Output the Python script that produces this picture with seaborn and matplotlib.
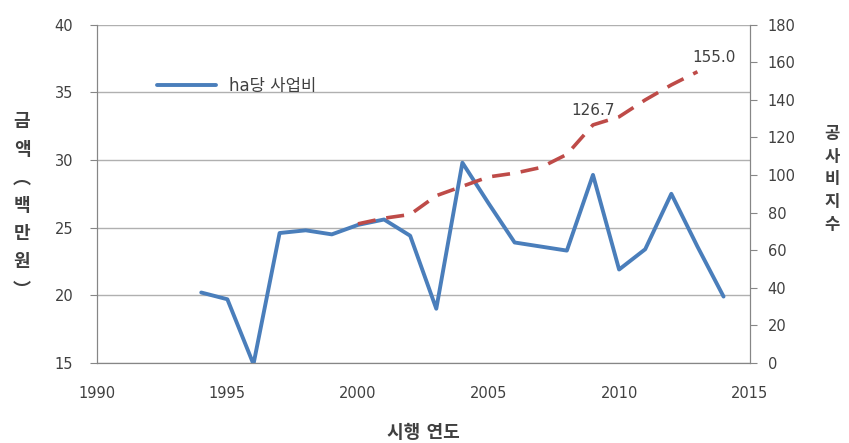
import matplotlib
matplotlib.use("Agg")
import matplotlib.pyplot as plt
import seaborn as sns
import pandas as pd

# ha당 사업비 (백만원)
years_cost = [1994, 1995, 1996, 1997, 1998, 1999, 2000, 2001, 2002, 2003, 2004,
              2005, 2006, 2007, 2008, 2009, 2010, 2011, 2012, 2013, 2014]
cost = [20.2, 19.7, 14.9, 24.6, 24.8, 24.5, 25.2, 25.6, 24.4, 19.0, 29.8,
        26.8, 23.9, 23.6, 23.3, 28.9, 21.9, 23.4, 27.5, 23.6, 19.9]

# 공사비지수
years_idx = [2000, 2001, 2002, 2003, 2004, 2005, 2006, 2007, 2008, 2009, 2010,
             2011, 2012, 2013]
index = [74, 77, 79, 89, 94, 99, 101, 104, 111, 126.7, 131, 140, 148, 155.0]

sns.set_style("white")
plt.rcParams['font.family'] = ['DejaVu Sans', 'Noto Sans CJK KR']

df_cost = pd.DataFrame({'year': years_cost, 'cost': cost})
df_idx = pd.DataFrame({'year': years_idx, 'index': index})

fig = plt.figure(figsize=(8.49, 4.43), dpi=100)
ax = fig.add_axes([0.114, 0.181, 0.769, 0.763])
ax2 = ax.twinx()

blue = '#4a7ebb'
red = '#be4b48'
grey = '#868686'
txt = '#404040'

sns.lineplot(data=df_cost, x='year', y='cost', ax=ax, color=blue, linewidth=2.8,
             label='ha당 사업비', zorder=3)
sns.lineplot(data=df_idx, x='year', y='index', ax=ax2, color=red, linewidth=2.6,
             legend=False)
ax2.lines[0].set_linestyle((0, (5, 3)))

ax.set_xlim(1990, 2015)
ax.set_ylim(15, 40)
ax.set_xticks(range(1990, 2016, 5))
ax.set_yticks(range(15, 41, 5))
ax2.set_ylim(0, 180)
ax2.set_yticks(range(0, 181, 20))

ax.grid(axis='y', color='#b0b0b0', linewidth=1)
ax.set_axisbelow(True)
for s in ax.spines.values():
    s.set_color(grey)
for s in ax2.spines.values():
    s.set_color(grey)
ax.spines['top'].set_visible(False)
ax2.spines['top'].set_visible(False)

ax.tick_params(axis='both', colors=grey, labelcolor=txt, labelsize=10.5,
               length=5, direction='out', pad=12)
ax.tick_params(axis='x', pad=12)
ax2.tick_params(axis='y', colors=grey, labelcolor=txt, labelsize=10.5,
                length=5, direction='out', pad=8)

ax.set_xlabel('시행 연도', fontsize=13, fontweight='bold', color=txt, labelpad=16)
ax.set_ylabel('')
ax2.set_ylabel('')
fig.text(0.026, 0.535, '금\n액\n︵\n백\n만\n원\n︶', fontsize=13, fontweight='bold',
         color=txt, ha='center', va='center', linespacing=1.6,
         family=['Noto Sans CJK KR', 'DejaVu Sans'])
fig.text(0.98, 0.595, '공\n사\n비\n지\n수', fontsize=12, fontweight='bold',
         color=txt, ha='center', va='center', linespacing=1.35,
         family=['Noto Sans CJK KR', 'DejaVu Sans'])

# data labels
ax2.annotate(f'{index[9]:.1f}', (years_idx[9], index[9]), xytext=(0, 5),
             textcoords='offset points', ha='center', va='bottom', fontsize=11, color=txt)
ax2.annotate(f'{index[-1]:.1f}', (years_idx[-1], index[-1]), xytext=(-4, 5),
             textcoords='offset points', ha='left', va='bottom', fontsize=11, color=txt)

leg = ax.legend(loc='upper left', bbox_to_anchor=(0.07, 0.89), frameon=False,
                fontsize=12, handlelength=3.5, labelcolor=txt)

fig.savefig('out.png', dpi=100)
